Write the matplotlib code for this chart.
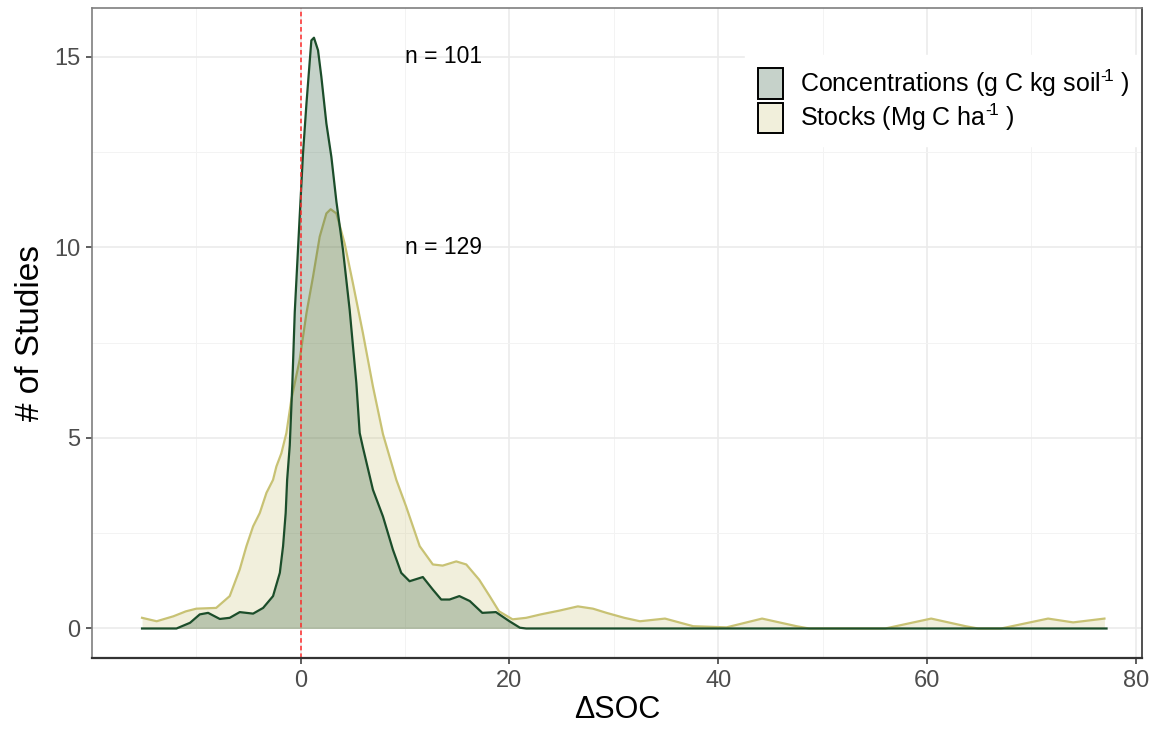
import matplotlib
matplotlib.use("Agg")
import matplotlib.pyplot as plt
from matplotlib.patches import Patch

plt.rcParams['font.family'] = ['Liberation Sans', 'DejaVu Sans']
plt.rcParams['mathtext.fontset'] = 'custom'
plt.rcParams['mathtext.rm'] = 'Liberation Sans'
plt.rcParams['mathtext.default'] = 'regular'

# density of change in SOC, scaled to number of studies
conc_x = [-15.2, -11.9, -10.6, -9.67, -8.87, -7.75, -6.8, -5.84, -4.56, -3.6,
          -2.65, -2.0, -1.69, -1.44, -1.3, -1.05, -0.8, -0.57, -0.1, 0.22,
          0.55, 1.02, 1.27, 1.66, 1.98, 2.46, 2.94, 3.42, 4.05, 4.69,
          5.33, 5.65, 5.96, 6.92, 7.88, 8.83, 9.63, 10.43, 11.7, 12.66,
          13.46, 14.26, 15.2, 16.2, 17.4, 18.7, 20.0, 21.0, 21.6, 77.2]
conc_y = [0.0, 0.0, 0.15, 0.37, 0.41, 0.25, 0.28, 0.43, 0.39, 0.54,
          0.85, 1.46, 2.16, 3.03, 3.9, 4.8, 6.44, 8.3, 10.8, 12.46,
          13.77, 15.43, 15.5, 15.17, 14.47, 13.25, 12.37, 11.2, 9.93, 8.36,
          6.44, 5.13, 4.75, 3.64, 2.94, 2.07, 1.46, 1.24, 1.35, 1.02,
          0.76, 0.76, 0.85, 0.72, 0.41, 0.43, 0.19, 0.02, 0.0, 0.0]

stock_x = [-15.2, -13.8, -12.2, -11.0, -10.0, -8.1, -6.8, -5.84, -5.2, -4.56,
           -3.92, -3.28, -2.65, -2.33, -1.85, -1.37, -0.9, -0.1, 0.55, 1.18,
           1.82, 2.46, 2.87, 3.42, 4.21, 5.0, 5.96, 6.92, 7.88, 9.16,
           10.1, 11.4, 12.66, 13.6, 14.9, 15.86, 17.1, 18.1, 19.0, 20.3,
           21.6, 23.0, 24.8, 26.55, 28.0, 29.3, 31.0, 32.5, 34.9, 37.6,
           40.8, 44.2, 47.5, 48.7, 56.0, 60.4, 63.7, 64.9, 67.1, 71.6,
           74.0, 77.0]
stock_y = [0.28, 0.19, 0.32, 0.45, 0.52, 0.54, 0.85, 1.55, 2.16, 2.68,
           3.03, 3.56, 3.9, 4.25, 4.6, 5.13, 6.0, 7.05, 8.27, 9.23,
           10.28, 10.89, 11.0, 10.89, 10.1, 9.06, 7.75, 6.35, 5.1, 3.9,
           3.2, 2.16, 1.68, 1.65, 1.76, 1.68, 1.28, 0.85, 0.45, 0.24,
           0.28, 0.37, 0.47, 0.58, 0.52, 0.41, 0.28, 0.19, 0.26, 0.06,
           0.03, 0.26, 0.06, 0.0, 0.0, 0.26, 0.06, 0.0, 0.0, 0.26,
           0.16, 0.26]

labels = ['Concentrations (g C kg soil$^{\u2010\\!1}$ )', 'Stocks (Mg C ha$^{\u2010\\!1}$ )']
n_labels = ['n = 101', 'n = 129']
n_pos = [(10.0, 15.0), (10.0, 10.0)]
x_ticks = [0, 20, 40, 60, 80]
x_minor = [-10, 10, 30, 50, 70]
y_ticks = [0, 5, 10, 15]
y_minor = [2.5, 7.5, 12.5]

conc_line = '#1b4d2a'
conc_fill = '#c6d2ca'
stock_line = '#c8c274'
stock_fill = '#f1efdb'

fig = plt.figure(figsize=(11.58, 7.34), dpi=100)
ax = fig.add_axes([0.0794, 0.1035, 0.9068, 0.8856])

ax.fill_between(stock_x, 0, stock_y, color=stock_line, alpha=0.25, lw=0, zorder=2)
ax.plot(stock_x, stock_y, color=stock_line, lw=1.6, zorder=3)
ax.fill_between(conc_x, 0, conc_y, color=conc_line, alpha=0.25, lw=0, zorder=4)
ax.plot(conc_x, conc_y, color=conc_line, lw=1.6, zorder=5)

ax.axvline(0, color='#ff2a2a', lw=1.1, ls=(0, (3, 2)), zorder=6)

for txt, (tx, ty) in zip(n_labels, n_pos):
    ax.text(tx, ty, txt, fontsize=16.5, ha='left', va='center', color='black', zorder=7)

ax.set_xlim(-20.0, 80.6)
ax.set_ylim(-0.775, 16.28)
ax.set_xticks(x_ticks)
ax.set_xticks(x_minor, minor=True)
ax.set_yticks(y_ticks)
ax.set_yticks(y_minor, minor=True)
ax.grid(which='major', color='#ebebeb', lw=1.2, zorder=0)
ax.grid(which='minor', color='#f3f3f3', lw=0.7, zorder=0)
ax.set_axisbelow(True)

ax.tick_params(which='major', length=4.5, width=1.1, color='#333333',
               labelsize=17, labelcolor='#4d4d4d', pad=4)
ax.tick_params(which='minor', length=0)

ax.spines['left'].set_color('#7f7f7f')
ax.spines['top'].set_color('#7f7f7f')
ax.spines['right'].set_color('#333333')
ax.spines['bottom'].set_color('#333333')
for s in ax.spines.values():
    s.set_linewidth(1.2)
    s.set_zorder(10)
ax.spines['bottom'].set_linewidth(1.6)

ax.set_xlabel('ΔSOC', fontsize=22, labelpad=2)
ax.set_ylabel('# of Studies', fontsize=24, labelpad=6)

handles = [Patch(facecolor=conc_fill, edgecolor='black', lw=1.4),
           Patch(facecolor=stock_fill, edgecolor='black', lw=1.4)]
leg = ax.legend(handles, labels, loc='upper left', bbox_to_anchor=(0.622, 0.928),
                fontsize=18, frameon=True, fancybox=False, framealpha=1,
                edgecolor='white', facecolor='white', handlelength=1.0,
                handleheight=1.5, handletextpad=0.7, labelspacing=0.12,
                borderpad=0.5, borderaxespad=0)
leg.set_zorder(8)

fig.savefig('out.png', dpi=100)
